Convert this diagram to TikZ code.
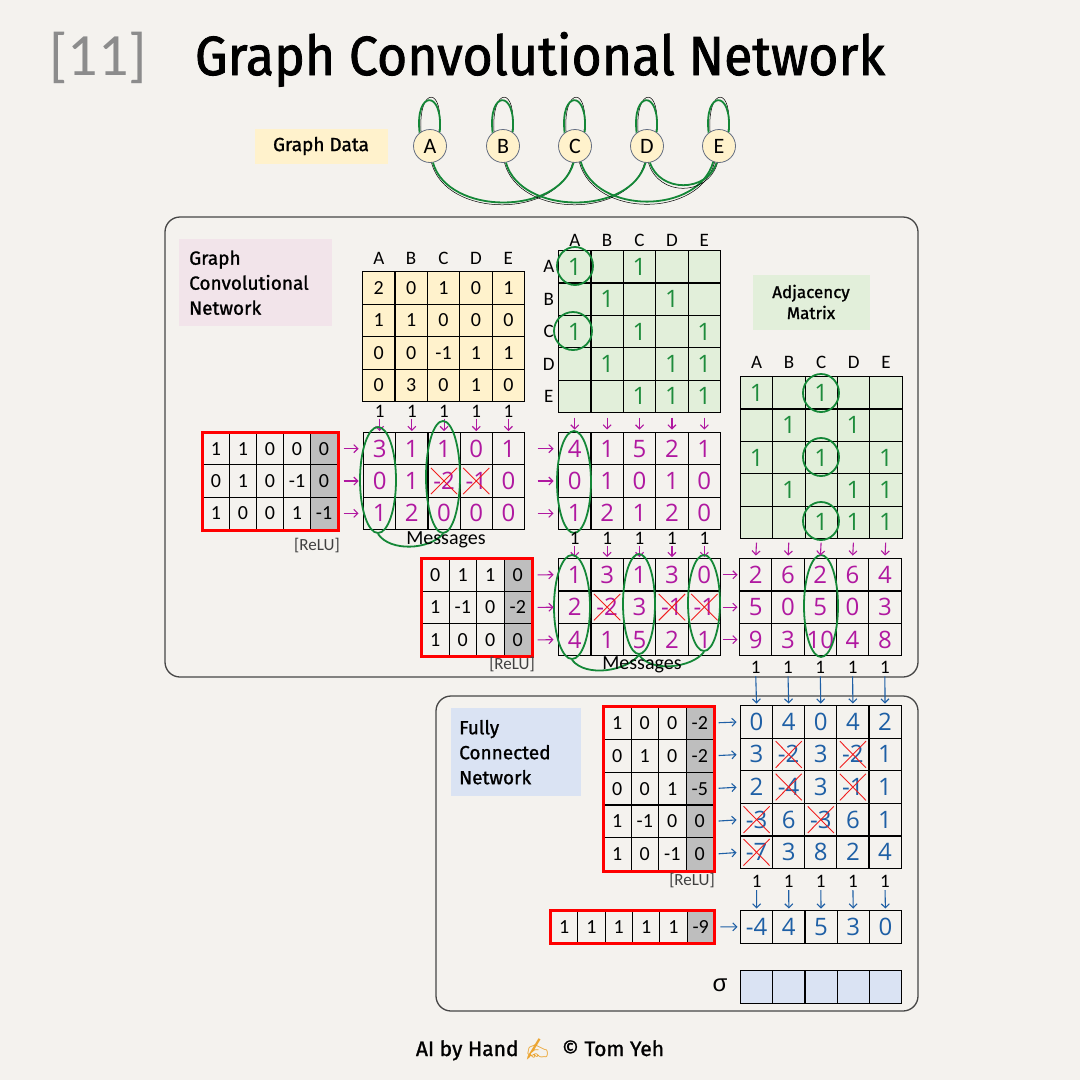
\documentclass[tikz,border=0pt]{standalone}
\usepackage{fontspec}
\setmainfont{Carlito}
\newfontfamily\hand{Open Sans}
\newfontfamily\lab[FakeBold=1.2]{Fira Sans}
\newfontfamily\ttl[FakeBold=1.5]{Fira Sans}
\newfontfamily\emoji{Noto Emoji}
\newfontfamily\grk{Liberation Sans}
\usetikzlibrary{matrix,shapes.geometric,arrows.meta,calc}
\definecolor{paper}{RGB}{244,242,238}
\definecolor{yel}{RGB}{255,242,204}
\definecolor{grn}{RGB}{226,239,218}
\definecolor{pinkbox}{RGB}{242,228,234}
\definecolor{lblue}{RGB}{218,227,243}
\definecolor{mag}{RGB}{176,24,160}
\definecolor{hgrn}{RGB}{30,140,60}
\definecolor{egrn}{RGB}{20,135,55}
\definecolor{hblue}{RGB}{30,95,165}
\definecolor{cgray}{RGB}{190,190,190}
\definecolor{xred}{RGB}{240,30,30}
\definecolor{boxln}{RGB}{70,70,70}
\definecolor{titlegray}{RGB}{140,140,140}
\definecolor{nodeln}{RGB}{100,110,130}
\definecolor{emo}{RGB}{235,165,50}
\tikzset{
  mcell/.style 2 args={draw=black, line width=1.1pt, minimum width=#1, minimum height=#2, inner sep=0pt, outer sep=0pt, anchor=center},
  mat/.style={matrix of nodes, nodes in empty cells, inner sep=0pt, outer sep=0pt, column sep=-1.1pt, row sep=-1.1pt, anchor=north west},
  pnum/.style={font=\fontsize{20}{20}\selectfont, text height=13pt, text depth=0pt},
  hnum/.style={font=\hand\fontsize{24}{24}\selectfont, text height=17pt, text depth=0pt},
  hdr/.style={font=\fontsize{19}{19}\selectfont, inner sep=0pt},
  one/.style={font=\fontsize{19}{19}\selectfont, inner sep=0.5pt},
  relu/.style={font=\fontsize{17}{17}\selectfont, text=black!75, inner sep=0pt},
  marr/.style={draw=mag, line width=1.1pt, -{Straight Barb[length=4pt,width=8pt]}},
  barr/.style={draw=hblue, line width=1.1pt, -{Straight Barb[length=4pt,width=8pt]}},
  gline/.style={draw=egrn, line width=1.8pt},
  gell/.style={ellipse, draw=egrn, line width=1.8pt, inner sep=0pt, fill=none},
  xline/.style={draw=xred, line width=0.9pt},
  gnode/.style={circle, draw=nodeln, line width=0.8pt, fill=yel, minimum size=33pt, inner sep=0pt, font=\fontsize{22}{22}\selectfont},
  redbox/.style={draw=red, line width=3pt},
  outbox/.style={draw=boxln, line width=1.3pt, rounded corners=15pt},
}
\newcommand\xcross[1]{\draw[xline] ([shift={(3pt,-3pt)}]#1.north west) -- ([shift={(-3pt,3pt)}]#1.south east) ([shift={(-3pt,-3pt)}]#1.north east) -- ([shift={(3pt,3pt)}]#1.south west);}
\begin{document}
\begin{tikzpicture}[x={(1pt,0)},y={(0,-1pt)}]
\useasboundingbox (0,0) rectangle (1080,1080);
\fill[paper] (0,0) rectangle (1080,1080);

% ---------- title ----------
\node[anchor=base, text=titlegray, font=\fontsize{60}{60}\selectfont] (num) at (98,75) {[11]};
\node[anchor=base, inner sep=0pt] (title) at (540,75) {\resizebox{690pt}{43pt}{\ttl Graph Convolutional Network}};

% ---------- graph data ----------
\node[fill=yel, minimum width=133pt, minimum height=35pt, inner sep=0pt, font=\lab\fontsize{19}{19}\selectfont] (gd) at (321,146) {Graph Data};
\foreach \n/\x in {A/430,B/503,C/575,D/647,E/719}{
  \node[gnode] (\n) at (\x,146) {\n};
}
\foreach \n in {A,B,C,D,E}{
  \draw[black, line width=0.5pt] (\n.122) .. controls +(-3,-46) and +(6,-46) .. (\n.58);
  \draw[gline] (\n.128) .. controls +(-5,-43) and +(4,-43) .. (\n.55);
}
\draw[black, line width=0.5pt] (A.275) .. controls +(15,56) and +(-15,56) .. (C.262);
\draw[gline] (A.280) .. controls +(15,53) and +(-15,53) .. (C.265);
\draw[black, line width=0.5pt] (B.275) .. controls +(15,56) and +(-15,56) .. (D.262);
\draw[gline] (B.280) .. controls +(15,53) and +(-15,53) .. (D.265);
\draw[black, line width=0.5pt] (C.285) .. controls +(15,56) and +(-15,56) .. (E.255);
\draw[gline] (C.290) .. controls +(15,53) and +(-15,53) .. (E.250);
\draw[black, line width=0.5pt] (D.275) .. controls +(10,34) and +(-10,34) .. (E.265);
\draw[gline] (D.280) .. controls +(10,30) and +(-10,30) .. (E.262);

% ---------- outer boxes ----------
\draw[outbox] (165,217) rectangle (918,677);
\draw[outbox] (436,696) rectangle (918,1011);

% ---------- labels ----------
\node[fill=pinkbox, anchor=north west, minimum width=153pt, minimum height=87pt, text width=133pt, inner xsep=10pt, inner ysep=0pt, align=left, font=\lab\fontsize{19}{25}\selectfont] (gcnlab) at (179,239) {Graph\\Convolutional\\Network};
\node[fill=grn, minimum width=117pt, minimum height=55pt, inner sep=0pt, align=center, font=\lab\fontsize{17}{21}\selectfont] (adjlab) at (811,302) {Adjacency\\Matrix};
\node[fill=lblue, anchor=north west, minimum width=130pt, minimum height=88pt, text width=114pt, inner xsep=8pt, inner ysep=0pt, align=left, font=\lab\fontsize{19}{25}\selectfont] (fclab) at (451,708) {Fully\\Connected\\Network};

% ---------- feature matrix X ----------
\matrix[mat, nodes={mcell={32.4}{32.5}, fill=yel, pnum}] (X) at (362,271) {
2 & 0 & 1 & 0 & 1 \\
1 & 1 & 0 & 0 & 0 \\
0 & 0 & -1 & 1 & 1 \\
0 & 3 & 0 & 1 & 0 \\
};
\foreach \c/\l in {1/A,2/B,3/C,4/D,5/E}{
  \node[hdr] (Xh\c) at ([yshift=29pt]X-1-\c.center) {\l};
}

% ---------- adjacency 1 ----------
\matrix[mat, nodes={mcell={32.4}{32.4}, fill=grn, hnum, text=hgrn}] (Ad) at (558,250) {
1 & & 1 & & \\
 & 1 & & 1 & \\
1 & & 1 & & 1 \\
 & 1 & & 1 & 1 \\
 & & 1 & 1 & 1 \\
};
\foreach \c/\l in {1/A,2/B,3/C,4/D,5/E}{
  \node[hdr] (Adh\c) at ([yshift=26pt]Ad-1-\c.center) {\l};
  \node[hdr] (Adr\c) at ([xshift=-26pt]Ad-\c-1.center) {\l};
}
\node[gell, minimum width=36pt, minimum height=38pt] (AdeA) at (575,266) {};
\node[gell, minimum width=38pt, minimum height=38pt] (AdeC) at (573,331) {};

% ---------- aggregate 1 ----------
\matrix[mat, nodes={mcell={32.4}{32.3}, hnum, text=mag}] (Ag) at (558,432) {
4 & 1 & 5 & 2 & 1 \\
0 & 1 & 0 & 1 & 0 \\
1 & 2 & 1 & 2 & 0 \\
};
\node[gell, minimum width=34pt, minimum height=102pt] (AgeA) at (574,482) {};
\foreach \c in {1,...,5}{
  \draw[marr, shorten <=5pt, shorten >=3pt] (Ad-5-\c.south) -- (Ag-1-\c.north);
}

% ---------- adjacency 2 ----------
\matrix[mat, nodes={mcell={32.3}{32.4}, fill=grn, hnum, text=hgrn}] (Bd) at (740,376) {
1 & & 1 & & \\
 & 1 & & 1 & \\
1 & & 1 & & 1 \\
 & 1 & & 1 & 1 \\
 & & 1 & 1 & 1 \\
};
\foreach \c/\l in {1/A,2/B,3/C,4/D,5/E}{
  \node[hdr] (Bdh\c) at ([yshift=30pt]Bd-1-\c.center) {\l};
}
\node[gell, minimum width=36pt, minimum height=38pt] (BdeA) at (821,393) {};
\node[gell, minimum width=36pt, minimum height=38pt] (BdeB) at (821,457) {};
\node[gell, minimum width=36pt, minimum height=38pt] (BdeC) at (821,521) {};

% ---------- W1 ----------
\matrix[mat, nodes={mcell={27}{32.3}, pnum}, column 5/.style={nodes={fill=cgray}}] (Wa) at (202,432) {
1 & 1 & 0 & 0 & 0 \\
0 & 1 & 0 & -1 & 0 \\
1 & 0 & 0 & 1 & -1 \\
};
\draw[redbox] (Wa.north west) rectangle (Wa.south east);
\node[relu] (reluA) at (317,546) {[ReLU]};

% ---------- messages 1 ----------
\matrix[mat, nodes={mcell={32.2}{32.3}, hnum, text=mag}] (Ma) at (363,432) {
3 & 1 & 1 & 0 & 1 \\
0 & 1 & -2 & -1 & 0 \\
1 & 2 & 0 & 0 & 0 \\
};
\xcross{Ma-2-3}
\xcross{Ma-2-4}
\foreach \c in {1,...,5}{
  \node[one] (Mao\c) at ([yshift=37pt]Ma-1-\c.center) {1};
  \draw[marr, shorten >=1.5pt] (Mao\c.south) -- (Ma-1-\c.north);
}
\node[gell, minimum width=36pt, minimum height=106pt] (MaeA) at (378,480) {};
\node[gell, minimum width=34pt, minimum height=112pt] (MaeC) at (443,477) {};
\draw[gline] (MaeA.south) .. controls +(12,18) and +(-14,16) .. (MaeC.south);
\node[font=\fontsize{20}{20}\selectfont, inner sep=0pt] (msgA) at (446,540) {Messages};
\foreach \r in {1,2,3}{
  \draw[marr, shorten <=6pt, shorten >=5pt] (Wa-\r-5.east) -- (Ma-\r-1.west);
  \draw[marr, shorten <=13pt, shorten >=5pt] (Ma-\r-5.east) -- (Ag-\r-1.west);
}

% ---------- W2 ----------
\matrix[mat, nodes={mcell={27.5}{32.6}, pnum}, column 4/.style={nodes={fill=cgray}}] (Wb) at (421,558) {
0 & 1 & 1 & 0 \\
1 & -1 & 0 & -2 \\
1 & 0 & 0 & 0 \\
};
\draw[redbox] (Wb.north west) rectangle (Wb.south east);
\node[relu] (reluB) at (512,665) {[ReLU]};

% ---------- messages 2 ----------
\matrix[mat, nodes={mcell={32.4}{32.4}, hnum, text=mag}] (Mb) at (558,558) {
1 & 3 & 1 & 3 & 0 \\
2 & -2 & 3 & -1 & -1 \\
4 & 1 & 5 & 2 & 1 \\
};
\xcross{Mb-2-2}
\xcross{Mb-2-4}
\xcross{Mb-2-5}
\foreach \c in {1,...,5}{
  \node[one] (Mbo\c) at ([yshift=36pt]Mb-1-\c.center) {1};
  \draw[marr, shorten >=1.5pt] (Mbo\c.south) -- (Mb-1-\c.north);
}
\node[gell, minimum width=36pt, minimum height=104pt] (MbeA) at (572,607) {};
\node[gell, minimum width=32pt, minimum height=100pt] (MbeC) at (639,604) {};
\node[gell, minimum width=32pt, minimum height=96pt] (MbeE) at (704,603) {};
\draw[gline] (MbeA.south) .. controls +(14,18) and +(-12,16) .. (MbeC.south);
\draw[gline] (MbeC.south) .. controls +(12,18) and +(-12,16) .. (MbeE.south);
\node[font=\fontsize{20}{20}\selectfont, inner sep=0pt] (msgB) at (642,665) {Messages};
\foreach \r in {1,2,3}{
  \draw[marr, shorten <=6pt, shorten >=5pt] (Wb-\r-4.east) -- (Mb-\r-1.west);
}

% ---------- H2 ----------
\matrix[mat, nodes={mcell={32.3}{32.4}, hnum, text=mag}] (Hb) at (739,558) {
2 & 6 & 2 & 6 & 4 \\
5 & 0 & 5 & 0 & 3 \\
9 & 3 & 10 & 4 & 8 \\
};
\node[gell, minimum width=34pt, minimum height=102pt] (HbeC) at (821,606) {};
\foreach \r in {1,2,3}{
  \draw[marr, shorten <=2pt, shorten >=2pt] (Mb-\r-5.east) -- (Hb-\r-1.west);
}
\foreach \c in {1,...,5}{
  \draw[marr, shorten <=4pt, shorten >=3pt] (Bd-5-\c.south) -- (Hb-1-\c.north);
  \node[one] (Hbo\c) at ([yshift=-28pt]Hb-3-\c.center) {1};
}

% ---------- W3 ----------
\matrix[mat, nodes={mcell={27.5}{32.8}, pnum}, column 4/.style={nodes={fill=cgray}}] (Wc) at (603,706) {
1 & 0 & 0 & -2 \\
0 & 1 & 0 & -2 \\
0 & 0 & 1 & -5 \\
1 & -1 & 0 & 0 \\
1 & 0 & -1 & 0 \\
};
\draw[redbox] (Wc.north west) rectangle (Wc.south east);
\node[relu] (reluC) at (692,881) {[ReLU]};

% ---------- H3 ----------
\matrix[mat, nodes={mcell={32.1}{32.6}, hnum, text=hblue}] (Hc) at (740,705) {
0 & 4 & 0 & 4 & 2 \\
3 & -2 & 3 & -2 & 1 \\
2 & -4 & 3 & -1 & 1 \\
-3 & 6 & -3 & 6 & 1 \\
-7 & 3 & 8 & 2 & 4 \\
};
\xcross{Hc-2-2}
\xcross{Hc-2-4}
\xcross{Hc-3-2}
\xcross{Hc-3-4}
\xcross{Hc-4-1}
\xcross{Hc-4-3}
\xcross{Hc-5-1}
\foreach \c in {1,...,5}{
  \draw[barr, shorten <=2pt, shorten >=2pt] (Hbo\c.south) -- (Hc-1-\c.north);
}
\foreach \r in {1,...,5}{
  \draw[barr, shorten <=5pt, shorten >=4pt] (Wc-\r-4.east) -- (Hc-\r-1.west);
}

% ---------- W4 and output ----------
\matrix[mat, nodes={mcell={27.3}{32.5}, pnum}, column 6/.style={nodes={fill=cgray}}] (Wd) at (550,910) {
1 & 1 & 1 & 1 & 1 & -9 \\
};
\draw[redbox] (Wd.north west) rectangle (Wd.south east);
\matrix[mat, nodes={mcell={32.2}{32.6}, hnum, text=hblue}] (Out) at (740,910) {
-4 & 4 & 5 & 3 & 0 \\
};
\draw[barr, shorten <=6pt, shorten >=3pt] (Wd-1-6.east) -- (Out-1-1.west);
\foreach \c in {1,...,5}{
  \node[one] (Hco\c) at ([yshift=-29pt]Hc-5-\c.center) {1};
  \draw[barr, shorten <=2pt, shorten >=2pt] (Hco\c.south) -- (Out-1-\c.north);
}

% ---------- sigma ----------
\matrix[mat, nodes={mcell={32.2}{33}, fill=lblue}] (Sg) at (740,970) {
 & & & & \\
};
\node[font=\grk\fontsize{24}{24}\selectfont, inner sep=0pt] (sig) at (720,985) {σ};

% ---------- footer ----------
\node[anchor=base, font=\lab\fontsize{21}{21}\selectfont] (foot) at (540,1056) {AI by Hand {\emoji\color{emo}✍}\ \ © Tom Yeh};
\end{tikzpicture}
\end{document}
